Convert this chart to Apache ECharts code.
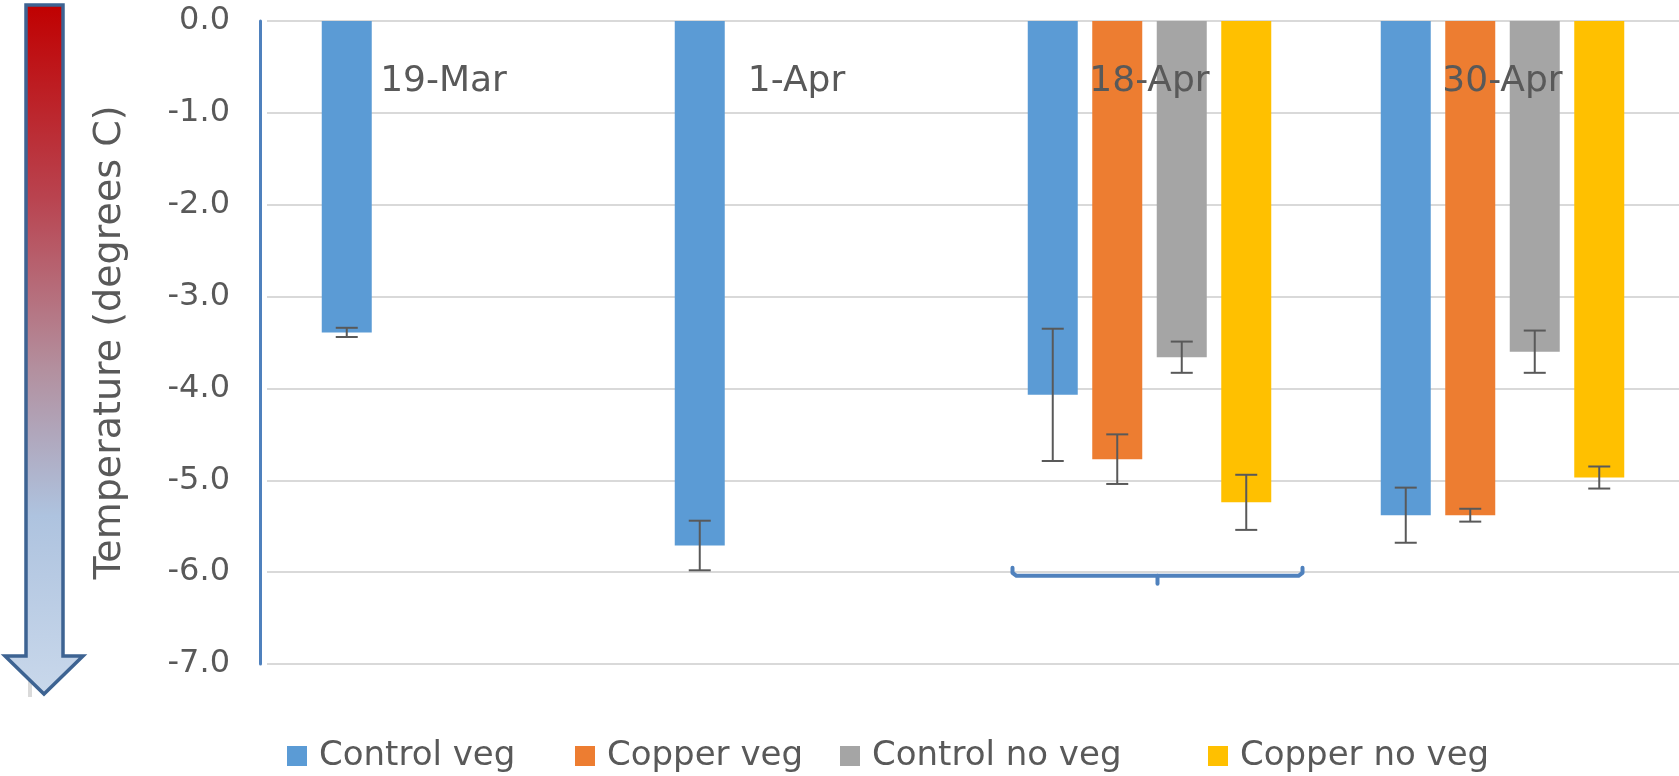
<!DOCTYPE html>
<html>
<head>
<meta charset="utf-8">
<script src="https://cdn.jsdelivr.net/npm/echarts@6/dist/echarts.min.js"></script>
<style>
  html, body { margin: 0; padding: 0; background: #fff; }
  #chart { width: 1679px; height: 776px; }
</style>
</head>
<body>
<div id="chart"></div>
<script>
// ---- data ----
const categories = ['19-Mar', '1-Apr', '18-Apr', '30-Apr'];
const seriesNames = ['Control veg', 'Copper veg', 'Control no veg', 'Copper no veg'];
const controlVeg     = [-3.39, -5.71, -4.07, -5.38];
const copperVeg      = [null, null, -4.77, -5.38];
const controlNoVeg   = [null, null, -3.66, -3.60];
const copperNoVeg    = [null, null, -5.24, -4.97];
const controlVegErr   = [0.05, 0.27, 0.72, 0.30];
const copperVegErr    = [null, null, 0.27, 0.07];
const controlNoVegErr = [null, null, 0.17, 0.23];
const copperNoVegErr  = [null, null, 0.30, 0.12];
const yMin = -7, yMax = 0, yStep = 1;

// ---- styling ----
const FONT = 'DejaVu Sans';
const TEXT = '#595959';
const colors = ['#5B9BD5', '#ED7D31', '#A5A5A5', '#FFC000'];
const BAR_WIDTH = 50;
const BAR_GAP = 0.29;
const BAR_PITCH = BAR_WIDTH * (1 + BAR_GAP);
const AXIS_BLUE = '#4F81BD';
const legendLefts = [287, 575, 840, 1208];

const values = [controlVeg, copperVeg, controlNoVeg, copperNoVeg];
const errs = [controlVegErr, copperVegErr, controlNoVegErr, copperNoVegErr];

const errData = [];
values.forEach((arr, s) => {
  arr.forEach((v, i) => {
    if (v != null && errs[s][i] != null) {
      errData.push([i, v - errs[s][i], v + errs[s][i], s]);
    }
  });
});

const chart = echarts.init(document.getElementById('chart'));

const barSeries = seriesNames.map((name, s) => ({
  name: name,
  type: 'bar',
  data: values[s].map(v => (v == null ? '-' : v)),
  barWidth: BAR_WIDTH,
  barGap: (BAR_GAP * 100) + '%',
  itemStyle: { color: colors[s] },
  z: 2
}));

const errSeries = {
  type: 'custom',
  name: 'err',
  z: 5,
  silent: true,
  data: errData,
  encode: { x: 0, y: [1, 2] },
  renderItem: function (params, api) {
    const cat = api.value(0), lo = api.value(1), hi = api.value(2), s = api.value(3);
    const cx = api.coord([cat, 0])[0] + (s - 1.5) * BAR_PITCH;
    const yLo = api.coord([cat, lo])[1];
    const yHi = api.coord([cat, hi])[1];
    const hw = 11;
    const st = { stroke: TEXT, lineWidth: 2 };
    return {
      type: 'group',
      children: [
        { type: 'line', shape: { x1: cx, y1: yLo, x2: cx, y2: yHi }, style: st },
        { type: 'line', shape: { x1: cx - hw, y1: yLo, x2: cx + hw, y2: yLo }, style: st },
        { type: 'line', shape: { x1: cx - hw, y1: yHi, x2: cx + hw, y2: yHi }, style: st }
      ]
    };
  }
};

const legends = seriesNames.map((name, s) => ({
  data: [name],
  left: legendLefts[s],
  top: 739,
  padding: 0,
  itemWidth: 20,
  itemHeight: 20,
  icon: 'rect',
  selectedMode: false,
  textStyle: { fontFamily: FONT, fontSize: 34, color: TEXT, padding: [0, 0, 0, 7] }
}));

const option = {
  animation: false,
  backgroundColor: '#fff',
  grid: { left: 267, right: 0, top: 21, bottom: 112, containLabel: false },
  legend: legends,
  xAxis: {
    type: 'category',
    data: categories,
    position: 'top',
    z: 10,
    axisLine: { show: false },
    axisTick: { show: false },
    axisLabel: {
      inside: true,
      margin: 43,
      fontFamily: FONT,
      fontSize: 36,
      color: TEXT
    },
    splitLine: { show: false }
  },
  yAxis: {
    type: 'value',
    min: yMin,
    max: yMax,
    interval: yStep,
    offset: 7,
    name: 'Temperature (degrees C)',
    nameLocation: 'middle',
    nameGap: 131,
    nameTextStyle: { fontFamily: FONT, fontSize: 38, color: TEXT },
    axisLine: { show: true, lineStyle: { color: AXIS_BLUE, width: 3 } },
    axisTick: { show: false },
    axisLabel: {
      margin: 30,
      fontFamily: FONT,
      fontSize: 32,
      color: TEXT,
      formatter: v => v.toFixed(1)
    },
    splitLine: { show: true, lineStyle: { color: '#D9D9D9', width: 2 } }
  },
  graphic: [
    // decorative temperature arrow on the far left
    {
      id: 'arrowShadow',
      type: 'rect',
      shape: { x: 28, y: 656, width: 4, height: 41 },
      style: { fill: '#DADADA' },
      z: 1
    },
    {
      id: 'arrow',
      type: 'polygon',
      z: 2,
      shape: {
        points: [[26, 5], [63, 5], [63, 656], [83, 656], [44, 694], [5, 656], [26, 656]]
      },
      style: {
        fill: {
          type: 'linear', x: 0, y: 0, x2: 0, y2: 1,
          colorStops: [
            { offset: 0, color: '#C00000' },
            { offset: 0.28, color: '#B9434F' },
            { offset: 0.53, color: '#B3909F' },
            { offset: 0.62, color: '#B0A6BB' },
            { offset: 0.74, color: '#AEC3DF' },
            { offset: 1, color: '#C9D8EB' }
          ]
        },
        stroke: '#3D6392',
        lineWidth: 3.5,
        lineJoin: 'miter'
      }
    }
  ],
  series: barSeries.concat([errSeries])
};

chart.setOption(option);

// bracket under the 18-Apr group, positioned from the axes
const cx = chart.convertToPixel({ xAxisIndex: 0 }, '18-Apr');
const by = chart.convertToPixel({ yAxisIndex: 0 }, -6.04);
const L = cx - 137, R = cx + 153, C = cx + 8;
chart.setOption({
  graphic: [
    {
      id: 'bracket',
      type: 'polyline',
      z: 20,
      shape: { points: [[L, by - 8], [L, by - 3], [L + 4, by], [R - 4, by], [R, by - 3], [R, by - 8]] },
      style: { stroke: AXIS_BLUE, lineWidth: 4, fill: null, lineJoin: 'round', lineCap: 'round' }
    },
    {
      id: 'bracketTick',
      type: 'line',
      z: 20,
      shape: { x1: C, y1: by, x2: C, y2: by + 8 },
      style: { stroke: AXIS_BLUE, lineWidth: 4, lineCap: 'round' }
    }
  ]
});
</script>
</body>
</html>
